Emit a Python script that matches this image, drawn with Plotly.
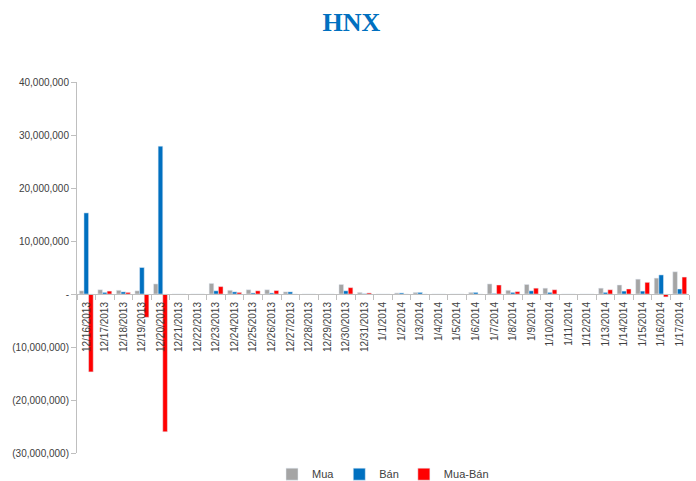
import plotly.graph_objects as go

dates = ["12/16/2013", "12/17/2013", "12/18/2013", "12/19/2013", "12/20/2013", "12/21/2013",
         "12/22/2013", "12/23/2013", "12/24/2013", "12/25/2013", "12/26/2013", "12/27/2013",
         "12/28/2013", "12/29/2013", "12/30/2013", "12/31/2013", "1/1/2014", "1/2/2014",
         "1/3/2014", "1/4/2014", "1/5/2014", "1/6/2014", "1/7/2014", "1/8/2014", "1/9/2014",
         "1/10/2014", "1/11/2014", "1/12/2014", "1/13/2014", "1/14/2014", "1/15/2014",
         "1/16/2014", "1/17/2014"]

mua = [600000, 800000, 700000, 600000, 1900000, 0, 0, 2000000, 700000, 800000, 800000, 400000,
       0, 0, 1800000, 300000, 0, 200000, 300000, 0, 0, 300000, 1900000, 700000, 1800000,
       1100000, 0, 0, 1100000, 1700000, 2800000, 3000000, 4200000]
ban = [15300000, 300000, 400000, 5000000, 27900000, 0, 0, 600000, 400000, 200000, 200000, 400000,
       0, 0, 600000, 50000, 0, 200000, 300000, 0, 0, 300000, 100000, 300000, 600000,
       300000, 0, 0, 300000, 550000, 550000, 3600000, 950000]
mua_ban = [-14700000, 550000, 300000, -4400000, -26000000, 0, 0, 1400000, 300000, 600000, 650000, 0,
           0, 0, 1200000, 200000, 0, 0, 0, 0, 0, 0, 1700000, 450000, 1100000,
           800000, 0, 0, 800000, 950000, 2200000, -550000, 3200000]

ytick_vals = [40000000, 30000000, 20000000, 10000000, 0, -10000000, -20000000, -30000000]
ytick_text = ["40,000,000", "30,000,000", "20,000,000", "10,000,000", "-",
              "(10,000,000)", "(20,000,000)", "(30,000,000)"]

fig = go.Figure()
fig.add_trace(go.Bar(x=dates, y=mua, name="Mua", marker_color="#A5A5A5"))
fig.add_trace(go.Bar(x=dates, y=ban, name="Bán", marker_color="#0070C0"))
fig.add_trace(go.Bar(x=dates, y=mua_ban, name="Mua-Bán", marker_color="#FF0000"))

ymin, ymax = -30000000, 40000000
zero_pos = (0 - ymin) / (ymax - ymin)

fig.update_layout(
    width=696, height=481,
    paper_bgcolor="white", plot_bgcolor="white",
    margin=dict(l=77, r=7, t=82, b=28, autoexpand=False),
    title=dict(text="<b>HNX</b>", x=0.505, xanchor="center", y=0.954, yanchor="middle",
               font=dict(family="Liberation Serif", size=26, color="#0070C0")),
    barmode="group", bargap=0.25, bargroupgap=0,
    font=dict(family="Liberation Sans", color="#404040"),
    legend=dict(orientation="h", x=0.5, xanchor="center", y=-0.057, yanchor="middle",
                font=dict(size=11, color="#404040"), itemwidth=30, traceorder="normal",
                tracegroupgap=0),
    showlegend=True,
)
fig.update_xaxes(
    type="category", anchor="free", position=zero_pos, automargin=False,
    showline=True, linecolor="#BFBFBF", linewidth=1,
    ticks="outside", tickson="boundaries", ticklen=5, tickcolor="#BFBFBF",
    tickangle=-90, tickfont=dict(size=10, color="#404040"), ticklabelstandoff=3,
    showgrid=False, zeroline=False,
)
fig.update_yaxes(
    range=[ymin, ymax], tickvals=ytick_vals, ticktext=ytick_text, automargin=False,
    showline=True, linecolor="#BFBFBF", linewidth=1,
    ticks="outside", ticklen=5, tickcolor="#BFBFBF",
    tickfont=dict(size=10, color="#404040"),
    showgrid=False, zeroline=False,
)

fig.write_html("out.html", config={"displayModeBar": False},
               post_script="document.body.style.margin='0';")
